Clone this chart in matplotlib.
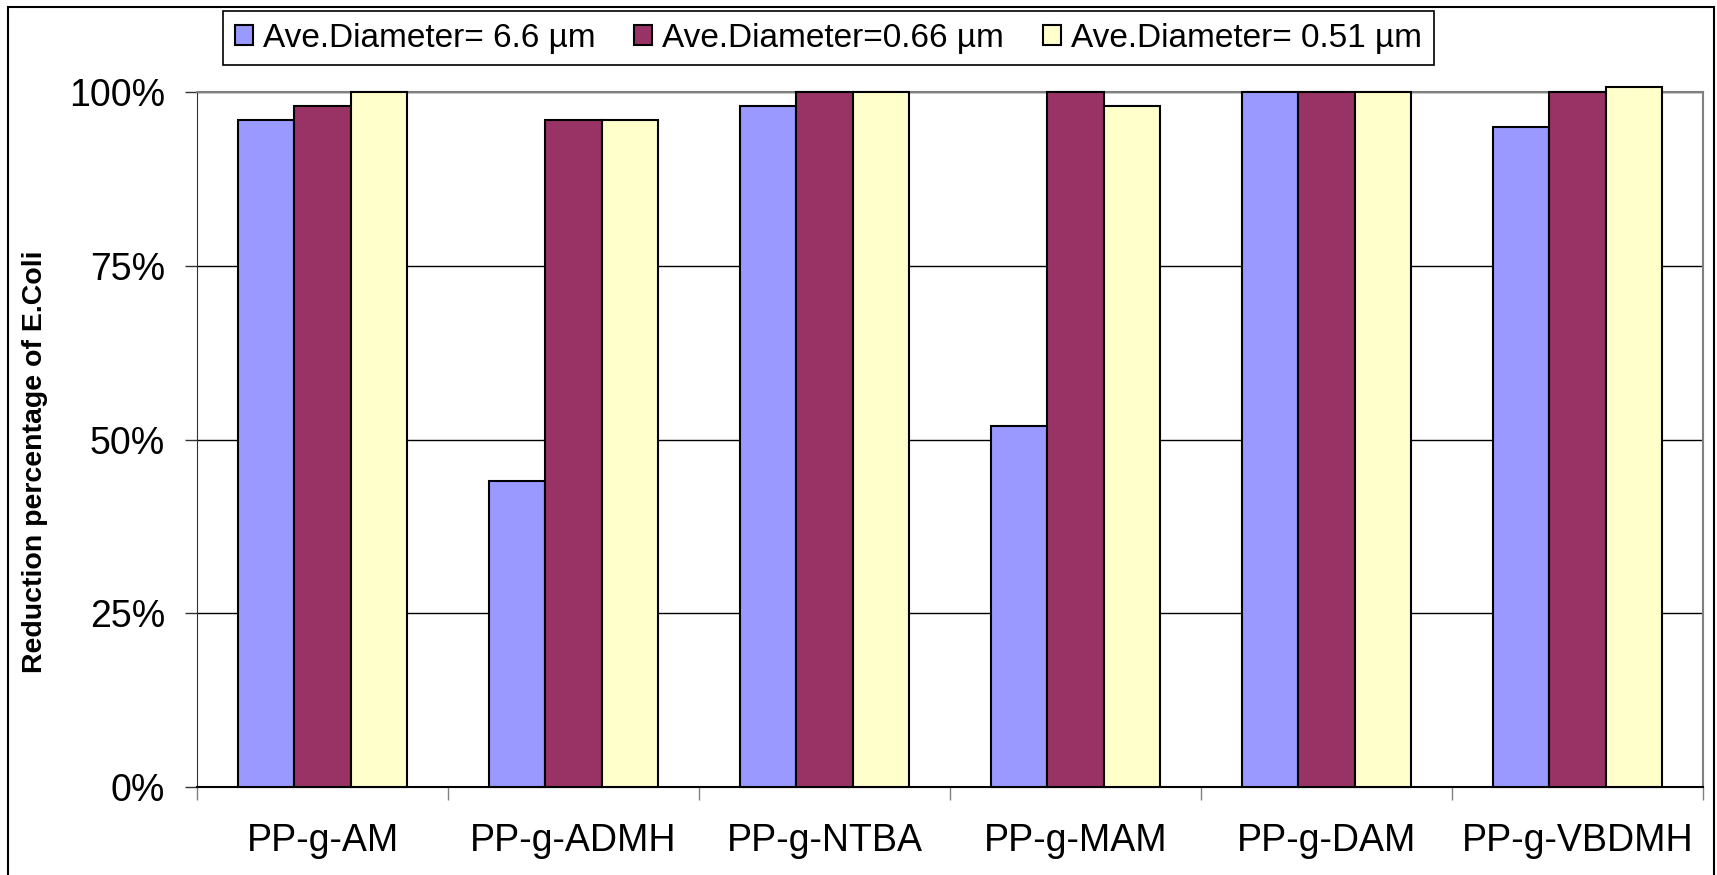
import matplotlib.pyplot as plt
from matplotlib.patches import Rectangle
import numpy as np

plt.rcParams['font.family'] = ['Liberation Sans', 'DejaVu Sans']

categories = ['PP-g-AM', 'PP-g-ADMH', 'PP-g-NTBA', 'PP-g-MAM', 'PP-g-DAM', 'PP-g-VBDMH']
series_names = ['Ave.Diameter= 6.6 µm', 'Ave.Diameter=0.66 µm', 'Ave.Diameter= 0.51 µm']
d_66 = [96, 44, 98, 52, 100, 95]
d_066 = [98, 96, 100, 100, 100, 100]
d_051 = [100, 96, 100, 98, 100, 100.7]
colors = ['#9999FF', '#993366', '#FFFFCC']

fig = plt.figure(figsize=(17.17, 8.75), dpi=100)
ax = fig.add_axes([197 / 1717, 1 - 787 / 875, (1703 - 197) / 1717, (787 - 92) / 875])

x = np.arange(len(categories))
w = 0.225
handles = []
for i, (vals, c, name) in enumerate(zip([d_66, d_066, d_051], colors, series_names)):
    b = ax.bar(x + (i - 1) * w, vals, w, color=c, edgecolor='black', linewidth=1.5,
               label=name, zorder=3, clip_on=False)
    handles.append(b)

ax.set_xlim(-0.5, len(categories) - 0.5)
ax.set_ylim(0, 100)
ax.set_yticks([0, 25, 50, 75, 100])
ax.set_yticklabels(['0%', '25%', '50%', '75%', '100%'])
ax.yaxis.grid(True, color='black', linewidth=1.0, zorder=0)
ax.tick_params(axis='y', length=9, width=1, color='#333333', labelsize=27, pad=14)

ax.set_xticks(x)
ax.set_xticklabels(categories)
ax.set_xticks(np.arange(-0.5, len(categories)), minor=True)
ax.tick_params(axis='x', which='major', length=0, labelsize=27, pad=26)
ax.tick_params(axis='x', which='minor', length=9, width=1, color='#808080')

for s in ['top', 'right']:
    ax.spines[s].set_color('#808080')
    ax.spines[s].set_linewidth(1.5)
ax.spines['left'].set_color('#333333')
ax.spines['bottom'].set_color('black')
ax.spines['bottom'].set_linewidth(1.5)

fig.text(35 / 1717, 1 - 462 / 875, 'Reduction percentage of E.Coli', rotation=90,
         fontsize=20.5, fontweight='bold', ha='center', va='center')

leg = fig.legend(handles=handles, loc='center left', ncol=3,
                 bbox_to_anchor=(223 / 1717, 1 - 38 / 875), fontsize=24,
                 frameon=True, fancybox=False, edgecolor='black', framealpha=1,
                 handlelength=0.55, handleheight=0.55, handletextpad=0.3,
                 columnspacing=1.15, borderpad=0.35, borderaxespad=0)
leg.get_frame().set_linewidth(1.2)

fig.patches.append(Rectangle((8 / 1717, -0.1), (1714 - 8) / 1717, 1.1 - 7 / 875,
                             transform=fig.transFigure, fill=False,
                             edgecolor='black', linewidth=1.5))

fig.savefig('out.png', dpi=100)
